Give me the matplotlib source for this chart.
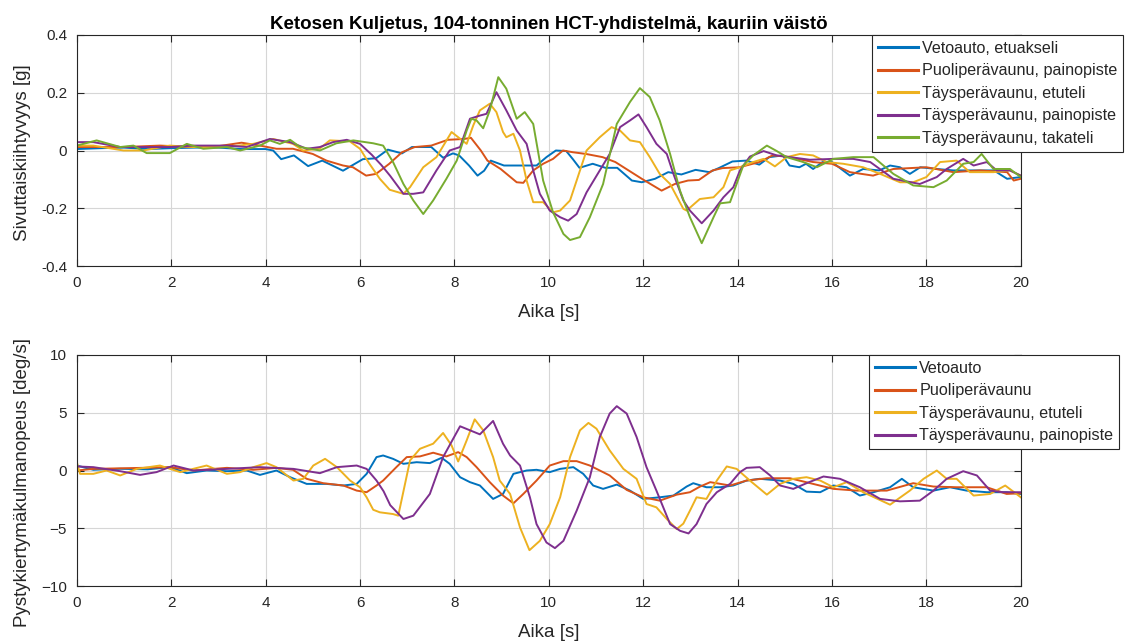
import numpy as np
import matplotlib
matplotlib.use("Agg")
import matplotlib.pyplot as plt

plt.rcParams['font.family'] = ['Liberation Sans', 'DejaVu Sans']

# ---------------- data: (time [s], value) ----------------
lat_vetoauto = np.array([
    (0, 0.005), (0.5, 0.008), (1.0, 0.01), (1.5, 0.005), (2.0, 0.008), (2.5, 0.01), (3.0, 0.01),
    (3.5, 0.005), (4.0, 0.005), (4.16, 0.0), (4.33, -0.03), (4.6, -0.017), (4.9, -0.054), (5.2, -0.035),
    (5.64, -0.07), (5.85, -0.05), (6.06, -0.03), (6.34, -0.027), (6.59, 0.003), (6.89, -0.01),
    (7.1, 0.012), (7.51, 0.012), (7.76, -0.025), (7.97, -0.01), (8.1, -0.017), (8.31, -0.052),
    (8.49, -0.087), (8.63, -0.07), (8.77, -0.035), (9.05, -0.052), (9.46, -0.052), (9.74, -0.052),
    (9.95, -0.023), (10.15, 0.0), (10.37, -0.002), (10.51, -0.03), (10.65, -0.06), (10.93, -0.046),
    (11.2, -0.06), (11.45, -0.06), (11.76, -0.104), (11.97, -0.11), (12.25, -0.098), (12.53, -0.075),
    (12.81, -0.083), (13.11, -0.067), (13.4, -0.075), (13.6, -0.061), (13.89, -0.038), (14.18, -0.035),
    (14.46, -0.049), (14.67, -0.023), (14.96, -0.017), (15.1, -0.052), (15.31, -0.058), (15.45, -0.046),
    (15.6, -0.064), (15.8, -0.04), (16.0, -0.04), (16.38, -0.087), (16.66, -0.064), (17.0, -0.069),
    (17.23, -0.052), (17.44, -0.058), (17.65, -0.081), (17.87, -0.058), (18.22, -0.064), (18.57, -0.069),
    (18.93, -0.069), (19.43, -0.069), (19.71, -0.098), (20.0, -0.092)])

lat_puoli = np.array([
    (0, 0.012), (0.5, 0.012), (1.0, 0.012), (1.76, 0.017), (2.5, 0.012), (3.0, 0.015), (3.49, 0.027),
    (3.88, 0.017), (4.23, 0.006), (4.58, 0.006), (5.0, -0.012), (5.29, -0.035), (5.64, -0.052),
    (5.85, -0.058), (6.13, -0.087), (6.34, -0.081), (6.62, -0.046), (6.89, -0.006), (7.16, 0.012),
    (7.51, 0.017), (7.86, 0.037), (8.21, 0.04), (8.35, 0.044), (8.56, 0.0), (8.7, -0.035), (8.98, -0.064),
    (9.32, -0.11), (9.46, -0.112), (9.67, -0.069), (9.88, -0.046), (10.09, -0.029), (10.3, 0.0),
    (10.51, -0.006), (10.79, -0.012), (11.14, -0.023), (11.41, -0.04), (11.69, -0.069), (11.97, -0.098),
    (12.39, -0.139), (12.67, -0.116), (12.95, -0.104), (13.18, -0.102), (13.47, -0.069), (13.68, -0.061),
    (14.04, -0.058), (14.46, -0.04), (14.74, -0.017), (15.03, -0.021), (15.6, -0.04), (16.0, -0.046),
    (16.38, -0.075), (16.87, -0.087), (17.3, -0.064), (18.0, -0.058), (18.57, -0.075), (19.14, -0.069),
    (19.71, -0.075), (19.85, -0.104), (20.0, -0.098)])

lat_tays_etu = np.array([
    (0, 0.017), (0.35, 0.017), (0.99, 0.0), (1.41, 0.0), (1.97, 0.017), (2.47, 0.012), (3.18, 0.012),
    (3.74, 0.023), (4.16, 0.04), (4.58, 0.023), (4.79, 0.0), (5.14, 0.006), (5.36, 0.035), (5.78, 0.032),
    (6.0, 0.006), (6.2, -0.046), (6.42, -0.098), (6.63, -0.136), (6.92, -0.15), (7.06, -0.127),
    (7.34, -0.058), (7.62, -0.023), (7.94, 0.064), (8.08, 0.046), (8.26, 0.023), (8.4, 0.087),
    (8.54, 0.139), (8.75, 0.162), (8.89, 0.133), (9.03, 0.064), (9.1, 0.046), (9.25, 0.058), (9.39, 0.0),
    (9.53, -0.104), (9.67, -0.179), (9.88, -0.179), (10.09, -0.214), (10.24, -0.208), (10.45, -0.173),
    (10.59, -0.104), (10.8, 0.0), (11.08, 0.046), (11.33, 0.081), (11.51, 0.069), (11.72, 0.035),
    (11.93, 0.029), (12.14, -0.023), (12.35, -0.081), (12.57, -0.116), (12.85, -0.202), (12.92, -0.208),
    (13.2, -0.168), (13.49, -0.162), (13.7, -0.127), (13.84, -0.069), (14.05, -0.058), (14.33, -0.04),
    (14.55, -0.029), (14.79, -0.055), (15.04, -0.023), (15.32, -0.012), (15.6, -0.017), (15.89, -0.04),
    (16.24, -0.046), (16.66, -0.058), (17.02, -0.081), (17.44, -0.11), (17.72, -0.11), (18.0, -0.092),
    (18.29, -0.04), (18.64, -0.035), (18.92, -0.075), (19.42, -0.075), (19.77, -0.069), (20.0, -0.087)])

lat_tays_paino = np.array([
    (0, 0.029), (0.35, 0.029), (0.92, 0.012), (1.41, 0.012), (1.97, 0.012), (2.47, 0.017), (3.18, 0.017),
    (3.6, 0.012), (4.09, 0.04), (4.52, 0.029), (4.87, 0.006), (5.15, 0.012), (5.43, 0.029), (5.72, 0.037),
    (6.0, 0.023), (6.25, -0.015), (6.45, -0.05), (6.64, -0.088), (6.92, -0.15), (7.13, -0.15),
    (7.34, -0.145), (7.62, -0.069), (7.9, 0.0), (8.12, 0.012), (8.33, 0.11), (8.54, 0.121), (8.68, 0.127),
    (8.89, 0.202), (9.1, 0.139), (9.32, 0.069), (9.53, 0.023), (9.67, -0.069), (9.81, -0.15),
    (10.02, -0.208), (10.24, -0.231), (10.41, -0.243), (10.59, -0.22), (10.8, -0.145), (11.08, -0.069),
    (11.29, -0.012), (11.51, 0.081), (11.72, 0.104), (11.9, 0.125), (12.07, 0.081), (12.28, 0.023),
    (12.5, -0.012), (12.64, -0.081), (12.85, -0.173), (12.99, -0.208), (13.24, -0.252), (13.49, -0.208),
    (13.7, -0.162), (13.91, -0.127), (14.05, -0.069), (14.26, -0.021), (14.55, -0.002), (14.83, -0.017),
    (15.11, -0.023), (15.53, -0.032), (16.03, -0.029), (16.45, -0.029), (16.81, -0.04), (17.3, -0.098),
    (17.86, -0.116), (18.22, -0.092), (18.43, -0.064), (18.78, -0.029), (19.0, -0.052), (19.28, -0.04),
    (19.49, -0.069), (19.77, -0.069), (20.0, -0.087)])

lat_tays_taka = np.array([
    (0, 0.017), (0.42, 0.035), (0.92, 0.012), (1.2, 0.017), (1.48, -0.009), (1.97, -0.009), (2.33, 0.023),
    (2.68, 0.006), (3.18, 0.012), (3.46, 0.0), (3.88, 0.017), (4.09, 0.035), (4.3, 0.023), (4.52, 0.037),
    (4.73, 0.012), (5.15, 0.0), (5.5, 0.025), (5.86, 0.035), (6.28, 0.025), (6.49, 0.017), (6.7, -0.04),
    (6.92, -0.116), (7.13, -0.173), (7.34, -0.22), (7.55, -0.173), (7.83, -0.098), (8.05, -0.035),
    (8.26, 0.069), (8.36, 0.11), (8.47, 0.104), (8.61, 0.077), (8.75, 0.139), (8.93, 0.254), (9.1, 0.214),
    (9.32, 0.11), (9.49, 0.133), (9.67, 0.092), (9.88, -0.104), (10.09, -0.214), (10.31, -0.289),
    (10.45, -0.31), (10.66, -0.3), (10.87, -0.231), (11.15, -0.116), (11.44, 0.092), (11.72, 0.168),
    (11.93, 0.216), (12.14, 0.185), (12.35, 0.104), (12.57, -0.012), (12.78, -0.139), (12.99, -0.231),
    (13.24, -0.321), (13.49, -0.231), (13.63, -0.183), (13.84, -0.179), (14.12, -0.052), (14.33, -0.017),
    (14.62, 0.017), (14.83, -0.002), (15.04, -0.023), (15.39, -0.04), (15.68, -0.058), (16.03, -0.029),
    (16.45, -0.023), (16.88, -0.023), (17.3, -0.081), (17.72, -0.121), (18.15, -0.127), (18.43, -0.104),
    (18.78, -0.046), (19.0, -0.04), (19.17, -0.012), (19.42, -0.064), (19.77, -0.064), (20.0, -0.092)])

yaw_vetoauto = np.array([
    (0, 0.43), (0.35, 0.06), (0.92, 0.15), (1.5, 0.1), (1.97, 0.29), (2.33, -0.23), (2.75, 0.0),
    (3.18, -0.06), (3.6, 0.0), (3.88, -0.38), (4.23, 0.0), (4.52, -0.58), (4.87, -1.16), (5.29, -1.16),
    (5.65, -1.3), (5.93, -1.16), (6.14, -0.29), (6.35, 1.16), (6.49, 1.3), (6.7, 1.01), (6.92, 0.58),
    (7.2, 0.72), (7.48, 0.64), (7.73, 1.1), (7.9, 0.58), (8.12, -0.58), (8.33, -1.01), (8.54, -1.3),
    (8.82, -2.46), (9.03, -2.03), (9.25, -0.29), (9.53, 0.0), (9.74, 0.06), (10.02, -0.14), (10.24, 0.14),
    (10.52, 0.29), (10.73, -0.29), (10.94, -1.3), (11.15, -1.59), (11.44, -1.22), (11.72, -1.74),
    (12.0, -2.46), (12.35, -2.32), (12.64, -2.17), (12.92, -1.39), (13.06, -1.1), (13.34, -1.45),
    (13.63, -1.45), (13.91, -1.3), (14.19, -0.87), (14.47, -0.72), (14.9, -0.87), (15.18, -1.16),
    (15.46, -1.83), (15.75, -1.88), (16.03, -1.3), (16.31, -1.45), (16.59, -2.17), (16.88, -1.88),
    (17.23, -1.45), (17.48, -0.72), (17.72, -1.45), (18.15, -1.74), (18.5, -1.45), (18.85, -1.74),
    (19.28, -1.88), (19.7, -1.88), (20.0, -2.03)])

yaw_puoli = np.array([
    (0, 0.0), (0.35, 0.14), (1.41, 0.23), (1.97, 0.29), (2.47, 0.0), (3.18, 0.23), (3.74, 0.06),
    (4.23, 0.23), (4.58, 0.06), (4.87, -0.72), (5.22, -1.1), (5.65, -1.3), (5.93, -1.74), (6.14, -1.88),
    (6.35, -1.3), (6.49, -0.87), (6.77, 0.29), (6.99, 1.16), (7.27, 1.22), (7.55, 1.54), (7.83, 1.22),
    (8.08, 1.59), (8.26, 1.16), (8.47, 0.29), (8.75, -1.01), (9.03, -2.17), (9.25, -2.84), (9.46, -2.03),
    (9.74, -0.87), (10.02, 0.43), (10.31, 0.81), (10.59, 0.81), (10.87, 0.43), (11.29, -0.43),
    (11.65, -1.68), (12.0, -2.32), (12.35, -2.61), (12.71, -2.09), (12.99, -1.88), (13.2, -1.4),
    (13.42, -1.01), (13.84, -1.3), (14.19, -0.87), (14.62, -0.67), (15.11, -0.67), (15.6, -1.16),
    (16.03, -1.59), (16.52, -1.74), (17.16, -1.74), (17.72, -1.1), (18.15, -1.39), (18.64, -1.45),
    (19.28, -1.45), (19.7, -2.03), (20.0, -1.97)])

yaw_tays_etu = np.array([
    (0, 0.72), (0.07, -0.29), (0.35, -0.29), (0.63, 0.0), (0.92, -0.43), (1.27, 0.14), (1.76, 0.43),
    (2.19, -0.14), (2.75, 0.43), (3.18, -0.29), (3.46, -0.14), (3.74, 0.29), (4.02, 0.64), (4.23, 0.29),
    (4.59, -0.87), (4.8, -0.72), (5.01, 0.43), (5.26, 1.01), (5.51, 0.29), (5.79, -0.87), (6.0, -1.45),
    (6.14, -2.32), (6.28, -3.4), (6.42, -3.62), (6.7, -3.77), (6.81, -3.91), (7.06, 0.87), (7.27, 1.88),
    (7.55, 2.32), (7.76, 3.25), (7.94, 2.17), (8.08, 0.78), (8.26, 2.61), (8.43, 4.43), (8.61, 3.48),
    (8.82, 1.16), (8.96, -0.87), (9.18, -2.03), (9.39, -4.93), (9.59, -6.9), (9.81, -6.09), (10.02, -4.64),
    (10.24, -2.32), (10.45, 1.16), (10.66, 3.48), (10.84, 4.12), (11.01, 3.62), (11.29, 1.74),
    (11.58, 0.14), (11.86, -0.72), (12.07, -2.9), (12.28, -3.19), (12.5, -4.2), (12.71, -5.07),
    (12.85, -4.6), (13.0, -3.4), (13.13, -2.32), (13.34, -2.46), (13.56, -0.87), (13.77, 0.35),
    (13.98, 0.14), (14.26, -0.87), (14.62, -2.09), (14.9, -1.16), (15.18, -0.72), (15.46, -0.58),
    (15.75, -0.87), (16.03, -1.45), (16.31, -1.01), (16.66, -1.88), (17.23, -2.96), (17.65, -1.74),
    (17.94, -0.72), (18.22, 0.0), (18.43, -0.72), (18.64, -0.72), (19.0, -2.17), (19.35, -2.03),
    (19.67, -1.3), (20.0, -2.32)])

yaw_tays_paino = np.array([
    (0, 0.35), (0.35, 0.29), (0.92, -0.06), (1.34, -0.38), (1.69, -0.14), (2.05, 0.43), (2.47, 0.0),
    (3.18, 0.14), (3.88, 0.29), (4.59, 0.14), (5.15, -0.23), (5.51, 0.29), (5.93, 0.43), (6.14, 0.14),
    (6.35, -0.87), (6.5, -1.8), (6.64, -3.0), (6.92, -4.2), (7.13, -3.91), (7.48, -2.03), (7.76, 1.16),
    (8.12, 3.83), (8.33, 3.48), (8.54, 3.13), (8.82, 4.29), (9.03, 2.32), (9.18, 1.3), (9.39, 0.43),
    (9.6, -2.32), (9.74, -4.64), (9.95, -6.23), (10.13, -6.72), (10.31, -6.09), (10.59, -3.48),
    (10.87, -0.58), (11.08, 2.9), (11.29, 4.93), (11.44, 5.57), (11.65, 4.93), (11.86, 2.9), (12.07, 0.29),
    (12.28, -1.74), (12.57, -4.64), (12.78, -5.22), (12.96, -5.45), (13.13, -4.64), (13.34, -2.9),
    (13.56, -1.88), (13.84, -1.16), (14.05, -0.14), (14.19, 0.23), (14.47, 0.29), (14.69, -0.43),
    (14.9, -1.3), (15.18, -1.59), (15.46, -1.1), (15.82, -0.52), (16.17, -0.72), (16.59, -1.45),
    (17.02, -2.46), (17.44, -2.67), (17.86, -2.61), (18.15, -1.74), (18.43, -0.72), (18.78, -0.06),
    (19.07, -0.43), (19.35, -1.74), (19.63, -1.88), (20.0, -1.88)])

top_labels = ['Vetoauto, etuakseli', 'Puoliperävaunu, painopiste', 'Täysperävaunu, etuteli',
              'Täysperävaunu, painopiste', 'Täysperävaunu, takateli']
bottom_labels = ['Vetoauto', 'Puoliperävaunu', 'Täysperävaunu, etuteli', 'Täysperävaunu, painopiste']
title = 'Ketosen Kuljetus, 104-tonninen HCT-yhdistelmä, kauriin väistö'
x_ticks = [0, 2, 4, 6, 8, 10, 12, 14, 16, 18, 20]
top_yticks = [-0.4, -0.2, 0, 0.2, 0.4]
top_yticklabels = ['-0.4', '-0.2', '0', '0.2', '0.4']
bottom_yticks = [-10, -5, 0, 5, 10]

colors = ['#0072BD', '#D95319', '#EDB120', '#7E2F8E', '#77AC30']

W, H = 1126, 644
fig = plt.figure(figsize=(W / 100, H / 100), dpi=100)

def px_axes(l, t, r, b):
    return fig.add_axes([l / W, 1 - b / H, (r - l) / W, (b - t) / H])

ax1 = px_axes(76.8, 35, 1020.8, 266)
ax2 = px_axes(76.8, 355, 1020.8, 586)

edge = '#262626'
for ax in (ax1, ax2):
    ax.set_xlim(0, 20)
    ax.set_xticks(x_ticks)
    ax.grid(True, color='#d6d6d6', linewidth=0.8)
    ax.set_axisbelow(True)
    for s in ax.spines.values():
        s.set_color(edge)
        s.set_linewidth(0.8)
    ax.tick_params(direction='in', length=5, width=0.8, colors=edge, labelsize=11,
                   top=True, right=True, pad=7)
    ax.set_xlabel('Aika [s]', fontsize=13.5, color=edge, labelpad=10)

for data, c, lab in zip([lat_vetoauto, lat_puoli, lat_tays_etu, lat_tays_paino, lat_tays_taka],
                        colors, top_labels):
    ax1.plot(data[:, 0], data[:, 1], color=c, lw=1.4, label=lab)
ax1.set_ylim(-0.4, 0.4)
ax1.set_yticks(top_yticks)
ax1.set_yticklabels(top_yticklabels)
ax1.set_ylabel('Sivuttaiskiihtyvyys [g]', fontsize=13.5, color=edge)
ax1.yaxis.set_label_coords(-0.049, 0.49)
ax1.set_title(title, fontsize=13.5, fontweight='bold', pad=4, color='black')

for data, c, lab in zip([yaw_vetoauto, yaw_puoli, yaw_tays_etu, yaw_tays_paino], colors, bottom_labels):
    ax2.plot(data[:, 0], data[:, 1], color=c, lw=1.4, label=lab)
ax2.set_ylim(-10, 10)
ax2.set_yticks(bottom_yticks)
ax2.set_ylabel('Pystykiertymäkulmanopeus [deg/s]', fontsize=13.5, color=edge)
ax2.yaxis.set_label_coords(-0.049, 0.45)

def make_legend(ax, right_px, top_px):
    leg = ax.legend(loc='upper right', bbox_to_anchor=(right_px / W, 1 - top_px / H),
                    bbox_transform=fig.transFigure, borderaxespad=0, fontsize=11.6,
                    frameon=True, fancybox=False, framealpha=1, edgecolor=edge,
                    handlelength=2.5, handletextpad=0.25, labelspacing=0.47,
                    borderpad=0.35)
    leg.get_frame().set_linewidth(0.8)
    for line in leg.get_lines():
        line.set_linewidth(2.2)
    for t in leg.get_texts():
        t.set_color('#262626')
    return leg

make_legend(ax1, 1123, 35)
make_legend(ax2, 1119, 355)

fig.savefig('out.png', dpi=100, facecolor='white')
